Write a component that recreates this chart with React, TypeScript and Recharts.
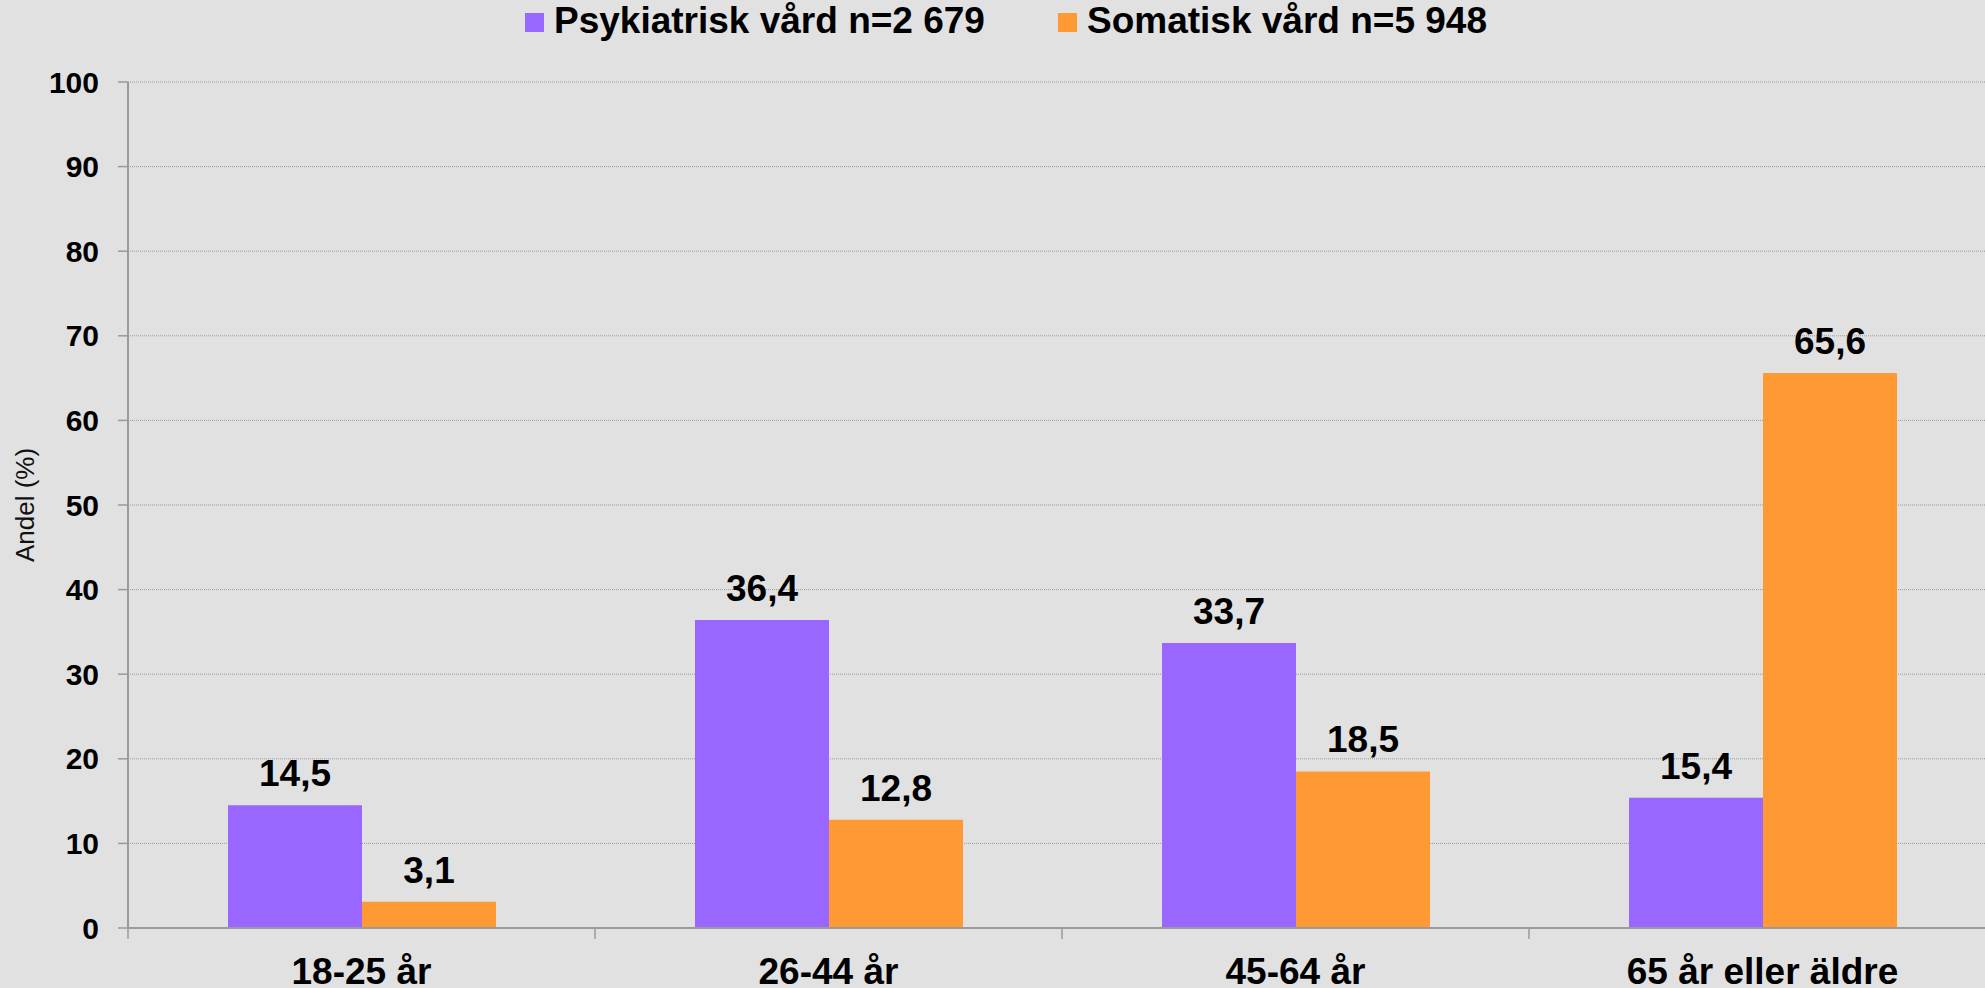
import React from 'react';
import { BarChart, Bar, XAxis, YAxis, CartesianGrid, Legend, LabelList } from 'recharts';

const categories = ['18-25 år', '26-44 år', '45-64 år', '65 år eller äldre'];
const psykiatrisk = [14.5, 36.4, 33.7, 15.4];
const somatisk = [3.1, 12.8, 18.5, 65.6];
const yTicks = [0, 10, 20, 30, 40, 50, 60, 70, 80, 90, 100];
const seriesNames = ['Psykiatrisk vård n=2 679', 'Somatisk vård n=5 948'];
const seriesKeys = ['psyk', 'som'];
const seriesColors = ['#9966FF', '#FF9933'];

const data = categories.map((c, i) => ({ category: c, psyk: psykiatrisk[i], som: somatisk[i] }));

const FONT = '"Liberation Sans", Arial, Helvetica, sans-serif';
const AXIS_COLOR = '#9a9a9a';
const BG = '#E1E1E1';

const fmt = (v: any) => Number(v).toFixed(1).replace('.', ',');

const XTick = (props: any) => {
  const { x, y, payload } = props;
  const half = payload && typeof payload.offset === 'number' && payload.offset > 0 ? payload.offset : 233.5;
  return (
    <g>
      <line x1={x - half} y1={y} x2={x - half} y2={y + 11} stroke={AXIS_COLOR} strokeWidth={1.5} />
      <text x={x} y={y + 56} textAnchor="middle" fontFamily={FONT} fontWeight="bold" fontSize={37} fill="#000">
        {payload.value}
      </text>
    </g>
  );
};

const YLabel = (props: any) => {
  const vb = props.viewBox || { x: 0, y: 82, width: 128, height: 846 };
  const cx = vb.x + 25;
  const cy = vb.y + vb.height / 2;
  return (
    <text
      x={cx}
      y={cy}
      transform={`rotate(-90, ${cx}, ${cy})`}
      textAnchor="middle"
      dominantBaseline="central"
      fontFamily={FONT}
      fontSize={26}
      fill="#111"
    >
      Andel (%)
    </text>
  );
};

const LegendContent = () => (
  <div
    style={{
      height: 82,
      boxSizing: 'border-box',
      paddingTop: 2,
      paddingLeft: 12,
      display: 'flex',
      justifyContent: 'center',
      gap: 73,
      fontFamily: FONT,
      fontWeight: 'bold',
      fontSize: 37,
      lineHeight: '37px',
      color: '#000',
    }}
  >
    {seriesNames.map((name, i) => (
      <div key={name} style={{ display: 'flex', alignItems: 'flex-start', whiteSpace: 'nowrap' }}>
        <span
          style={{
            display: 'inline-block',
            width: 19,
            height: 19,
            background: seriesColors[i],
            marginTop: 11,
            marginRight: 10,
          }}
        />
        <span>{name}</span>
      </div>
    ))}
  </div>
);

export default function App() {
  return (
    <div
      style={{
        position: 'fixed',
        left: 0,
        top: 0,
        width: 1985,
        height: 988,
        overflow: 'hidden',
        background: BG,
      }}
    >
      <BarChart
        width={2000}
        height={988}
        data={data}
        margin={{ top: 0, right: 4, bottom: 0, left: 0 }}
        barGap={0}
        style={{ background: BG }}
      >
        <Legend
          verticalAlign="top"
          align="center"
          content={<LegendContent />}
          wrapperStyle={{ left: 0, top: 0, width: 2000, margin: 0, padding: 0 }}
        />
        <CartesianGrid vertical={false} stroke="#999" strokeDasharray="1 1" strokeWidth={1} />
        <XAxis
          dataKey="category"
          height={60}
          axisLine={{ stroke: AXIS_COLOR, strokeWidth: 2 }}
          tickLine={false}
          tickSize={0}
          tickMargin={0}
          interval={0}
          tick={<XTick />}
        />
        <YAxis
          type="number"
          domain={[0, 100]}
          ticks={yTicks}
          interval={0}
          width={128}
          axisLine={{ stroke: AXIS_COLOR, strokeWidth: 2 }}
          tickLine={{ stroke: AXIS_COLOR, strokeWidth: 1.5 }}
          tickSize={10}
          tickMargin={19}
          tick={{ fontFamily: FONT, fontWeight: 'bold', fontSize: 30, fill: '#000' }}
          label={<YLabel />}
        />
        {seriesKeys.map((k, i) => (
          <Bar key={k} dataKey={k} name={seriesNames[i]} fill={seriesColors[i]} barSize={134} isAnimationActive={false}>
            <LabelList
              dataKey={k}
              position="top"
              offset={19}
              formatter={fmt}
              fill="#000"
              fontFamily={FONT}
              fontWeight="bold"
              fontSize={37}
            />
          </Bar>
        ))}
      </BarChart>
    </div>
  );
}
